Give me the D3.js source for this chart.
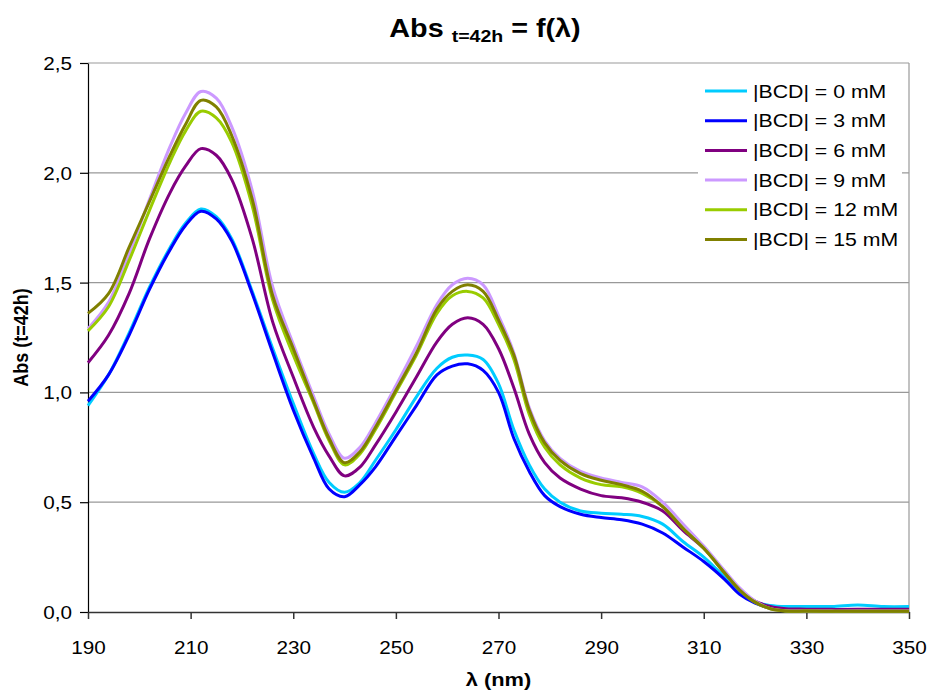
<!DOCTYPE html>
<meta charset="utf-8">
<style>
body { margin: 0; background: #fff; }
text { font-family: "Liberation Sans", Arial, sans-serif; }
</style>
<svg width="929" height="691"></svg>
<script src="https://cdn.jsdelivr.net/npm/d3@7"></script>
<script>

// wavelengths (nm) shared by every series
var wavelengths = [190,194,198,202,206,209,212,215,218,222,226,230,234,237,240,243,246,250,254,258,261,264,267,270,273,276,279,282,286,290,294,298,302,306,310,314,317,320,323,326,330,335,340,345,350];

// absorbance, one list per BCD concentration
var abs0 = [0.94,1.08,1.27,1.48,1.66,1.77,1.835,1.80,1.70,1.46,1.20,0.95,0.72,0.59,0.545,0.59,0.69,0.83,0.98,1.11,1.16,1.17,1.15,1.04,0.83,0.67,0.56,0.50,0.46,0.45,0.445,0.435,0.40,0.32,0.25,0.16,0.09,0.045,0.03,0.025,0.025,0.025,0.032,0.025,0.025];
var abs3 = [0.96,1.08,1.26,1.47,1.65,1.76,1.825,1.79,1.69,1.45,1.18,0.92,0.70,0.56,0.525,0.58,0.66,0.80,0.94,1.08,1.12,1.13,1.10,1.00,0.79,0.64,0.53,0.48,0.445,0.43,0.42,0.40,0.36,0.295,0.23,0.15,0.08,0.04,0.018,0.01,0.008,0.007,0.006,0.005,0.005];
var abs6 = [1.135,1.26,1.45,1.70,1.91,2.03,2.11,2.08,1.97,1.70,1.32,1.07,0.84,0.71,0.62,0.66,0.76,0.91,1.07,1.23,1.31,1.34,1.31,1.20,1.02,0.81,0.68,0.61,0.56,0.53,0.52,0.50,0.46,0.37,0.29,0.18,0.10,0.05,0.025,0.015,0.013,0.012,0.012,0.012,0.012];
var abs9 = [1.29,1.41,1.63,1.88,2.12,2.27,2.37,2.34,2.21,1.92,1.48,1.22,0.98,0.81,0.70,0.75,0.86,1.03,1.21,1.40,1.49,1.52,1.49,1.35,1.18,0.93,0.78,0.70,0.64,0.61,0.59,0.57,0.50,0.40,0.30,0.19,0.11,0.05,0.015,0.006,0.005,0.004,0.004,0.004,0.004];
var abs12 = [1.28,1.39,1.60,1.83,2.05,2.19,2.28,2.25,2.14,1.85,1.42,1.17,0.95,0.78,0.67,0.72,0.83,1.00,1.17,1.36,1.44,1.46,1.43,1.31,1.15,0.90,0.75,0.67,0.61,0.58,0.57,0.54,0.48,0.38,0.29,0.18,0.10,0.045,0.015,0.005,0.004,0.003,0.003,0.003,0.003];
var abs15 = [1.36,1.45,1.66,1.87,2.08,2.22,2.33,2.30,2.17,1.88,1.44,1.20,0.96,0.79,0.68,0.73,0.84,1.01,1.18,1.38,1.46,1.49,1.46,1.33,1.17,0.92,0.77,0.69,0.63,0.60,0.58,0.55,0.48,0.38,0.29,0.18,0.10,0.045,0.015,0.005,0.004,0.003,0.003,0.003,0.003];

var seriesNames = ["|BCD| = 0 mM","|BCD| = 3 mM","|BCD| = 6 mM","|BCD| = 9 mM","|BCD| = 12 mM","|BCD| = 15 mM"];
var seriesValues = [abs0, abs3, abs6, abs9, abs12, abs15];
var colors = ["#00ccff","#0000ff","#800080","#cc99ff","#99cc00","#808000"];

var xTicks = [190,210,230,250,270,290,310,330,350];
var yTicks = [0,0.5,1,1.5,2,2.5];

var svg = d3.select("svg"),
    margin = {top: 63, right: 20, bottom: 79, left: 88},
    width = +svg.attr("width") - margin.left - margin.right,
    height = +svg.attr("height") - margin.top - margin.bottom,
    g = svg.append("g").attr("transform", "translate(" + margin.left + "," + margin.top + ")");

// the original picture is stretched sideways, so text gets a small x scale
var sx = 1.15;

var x = d3.scaleLinear().domain([190, 350]).range([0, width]);
var y = d3.scaleLinear().domain([0, 2.5]).range([height, 0]);

// gridlines
g.append("g")
  .selectAll("line")
  .data(yTicks.slice(1))
  .enter().append("line")
    .attr("x1", 0).attr("x2", width)
    .attr("y1", function(d) { return y(d); })
    .attr("y2", function(d) { return y(d); })
    .attr("stroke", "#999")
    .attr("stroke-width", 1.2);

// right border
g.append("line")
  .attr("x1", width).attr("x2", width)
  .attr("y1", 0).attr("y2", height)
  .attr("stroke", "#999")
  .attr("stroke-width", 1.2);

// axes
var fmt = d3.format(".1f");
var yAxis = g.append("g")
  .call(d3.axisLeft(y).tickValues(yTicks).tickSize(8).tickSizeOuter(0).tickPadding(6)
        .tickFormat(function(d) { return fmt(d).replace(".", ","); }));
yAxis.selectAll("text")
  .attr("font-size", 18).attr("font-family", null).attr("fill", "#000")
  .attr("dy", null).attr("y", 6.5)
  .attr("transform", "scale(" + sx + ",1)");
yAxis.selectAll("line, path").attr("stroke", "#000").attr("stroke-width", 1.2);

var xAxis = g.append("g")
  .attr("transform", "translate(0," + height + ")")
  .call(d3.axisBottom(x).tickValues(xTicks).tickSize(7).tickSizeOuter(0).tickPadding(22));
xAxis.selectAll("text")
  .attr("font-size", 18).attr("font-family", null).attr("fill", "#000")
  .attr("transform", "scale(" + sx + ",1)");
xAxis.selectAll("line, path").attr("stroke", "#333").attr("stroke-width", 1.5);

// spectra
var line = d3.line()
  .x(function(d) { return x(d[0]); })
  .y(function(d) { return y(d[1]); })
  .curve(d3.curveCatmullRom.alpha(0.5));

g.append("g")
  .selectAll("path")
  .data(seriesValues)
  .enter().append("path")
    .attr("fill", "none")
    .attr("stroke", function(d, i) { return colors[i]; })
    .attr("stroke-width", 3)
    .attr("stroke-linejoin", "round")
    .attr("d", function(vals) { return line(wavelengths.map(function(w, j) { return [w, vals[j]]; })); });

// legend
var legend = svg.append("g");
legend.append("rect")
  .attr("x", 698).attr("y", 75)
  .attr("width", 204).attr("height", 180)
  .attr("fill", "#fff");

var item = legend.selectAll("g")
  .data(seriesNames)
  .enter().append("g")
    .attr("transform", function(d, i) { return "translate(705," + (91 + i * 29.7) + ")"; });

item.append("line")
  .attr("x1", 0).attr("x2", 42)
  .attr("stroke", function(d, i) { return colors[i]; })
  .attr("stroke-width", 3);

item.append("text")
  .attr("transform", "translate(48,6.5) scale(" + sx + ",1)")
  .attr("font-size", 18.5)
  .text(function(d) { return d; });

// title
var title = svg.append("text")
  .attr("transform", "translate(485,37) scale(" + sx + ",1)")
  .attr("text-anchor", "middle")
  .attr("font-weight", "bold")
  .attr("font-size", 25);
title.append("tspan").text("Abs ");
title.append("tspan").attr("font-size", 17).attr("dy", 5).text("t=42h");
title.append("tspan").attr("dy", -5).text(" = f(λ)");

// axis titles
svg.append("text")
  .attr("transform", "translate(" + (margin.left + width / 2) + ",686) scale(" + sx + ",1)")
  .attr("text-anchor", "middle")
  .attr("font-weight", "bold")
  .attr("font-size", 19)
  .text("λ (nm)");

svg.append("text")
  .attr("transform", "translate(28," + (margin.top + height / 2) + ") scale(" + sx + ",1) rotate(-90)")
  .attr("text-anchor", "middle")
  .attr("font-weight", "bold")
  .attr("font-size", 18)
  .text("Abs (t=42h)");

</script>
